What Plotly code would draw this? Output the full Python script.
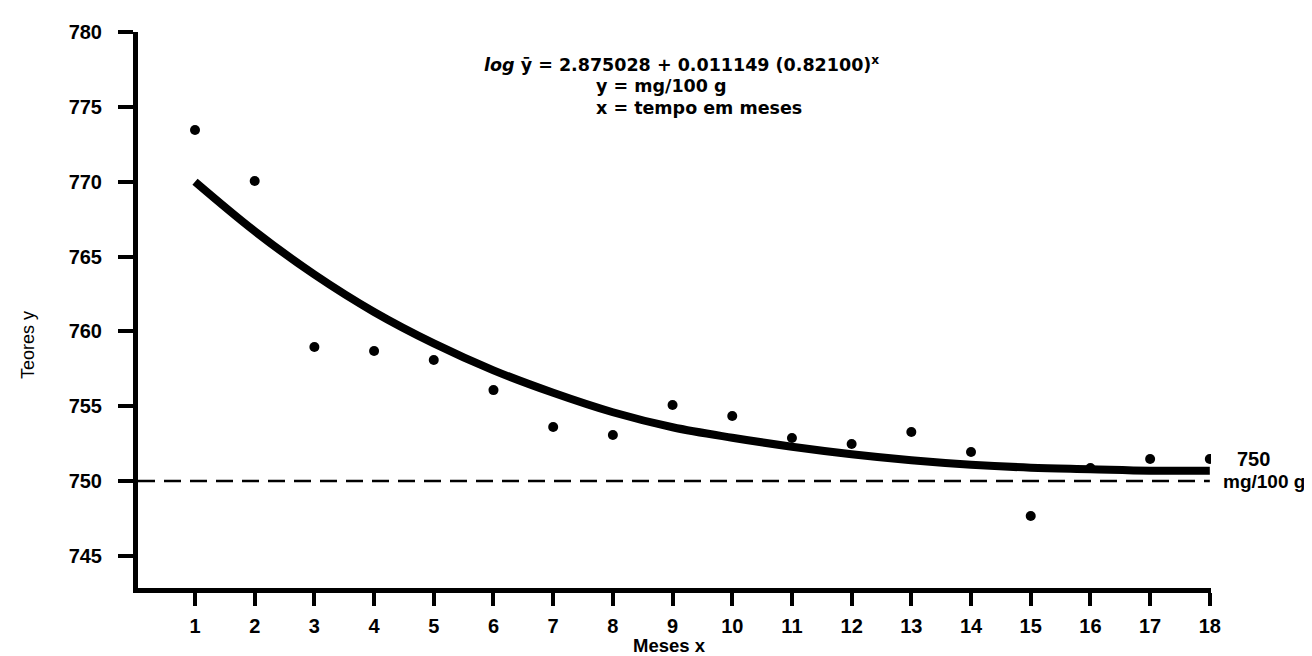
import plotly.graph_objects as go

# Data
meses = list(range(1, 19))
teores_obs = [773.45, 770.05, 758.96, 758.69, 758.09, 756.08, 753.61, 753.08, 755.08,
              754.35, 752.88, 752.48, 753.28, 751.94, 747.67, 750.88, 751.48, 751.48]
teores_ajust = [770.0, 766.7, 763.8, 761.3, 759.2, 757.4, 755.9, 754.6, 753.6,
                752.9, 752.3, 751.8, 751.4, 751.1, 750.9, 750.8, 750.7, 750.7]
limite = 750
x_ticks = list(range(1, 19))
y_ticks = [745, 750, 755, 760, 765, 770, 775, 780]

W, H = 1312, 656
L, R, T, B = 130, 1203, 24, 580
FONT = "Liberation Sans, Arial, Helvetica, sans-serif"
FONT_WIDE = "DejaVu Sans, Verdana, sans-serif"


def px(xp, yp):
    return (xp - L) / (R - L), (B - yp) / (B - T)


fig = go.Figure()
fig.add_trace(go.Scatter(x=[0.045, 18], y=[limite, limite], mode="lines",
                         line=dict(color="black", width=2.5, dash="17px,9px"),
                         hoverinfo="skip", showlegend=False))
fig.add_trace(go.Scatter(x=meses, y=teores_ajust, mode="lines", line_shape="spline",
                         line=dict(color="black", width=8), showlegend=False))
fig.add_trace(go.Scatter(x=meses, y=teores_obs, mode="markers",
                         marker=dict(color="black", size=10), showlegend=False))

annots = []


def add_text(text, xp, yp, size=20, xanchor="center", textangle=0, weight="bold", family=FONT):
    xf, yf = px(xp, yp)
    annots.append(dict(text=text, x=xf, y=yf, xref="paper", yref="paper",
                       xanchor=xanchor, yanchor="middle", showarrow=False,
                       textangle=textangle, borderpad=0,
                       font=dict(family=family, size=size, color="black", weight=weight)))


add_text("<i>log</i> \u0233 = 2.875028 + 0.011149 (0.82100)<sup>x</sup>",
         475, 56, size=17.5, xanchor="left", family=FONT_WIDE)
add_text("y = mg/100 g", 587, 78, size=17.5, xanchor="left", family=FONT_WIDE)
add_text("x = tempo em meses", 587, 100, size=17.5, xanchor="left", family=FONT_WIDE)
add_text("750", 1228, 451, size=20, xanchor="left")
add_text("mg/100 g", 1214, 473, size=19, xanchor="left")
add_text("Meses x", 661, 637, size=18.5)
add_text("Teores y", 20, 337, size=18, textangle=-90, weight="normal")

fig.update_layout(
    width=W, height=H,
    margin=dict(l=L, r=W - R, t=T, b=H - B),
    paper_bgcolor="white", plot_bgcolor="white",
    annotations=annots,
    xaxis=dict(range=[0.045, 18.02], tickvals=x_ticks, showgrid=False, zeroline=False,
               showline=True, linewidth=5, linecolor="black",
               ticks="outside", ticklen=13, tickwidth=4, tickcolor="black",
               ticklabelstandoff=3,
               tickfont=dict(family=FONT, size=20, color="black", weight="bold")),
    yaxis=dict(range=[742.86, 780], tickvals=y_ticks, showgrid=False, zeroline=False,
               showline=True, linewidth=5, linecolor="black",
               ticks="outside", ticklen=15, tickwidth=4, tickcolor="black",
               ticklabelstandoff=12,
               tickfont=dict(family=FONT, size=20, color="black", weight="bold")),
)

fig.write_html("out.html")
